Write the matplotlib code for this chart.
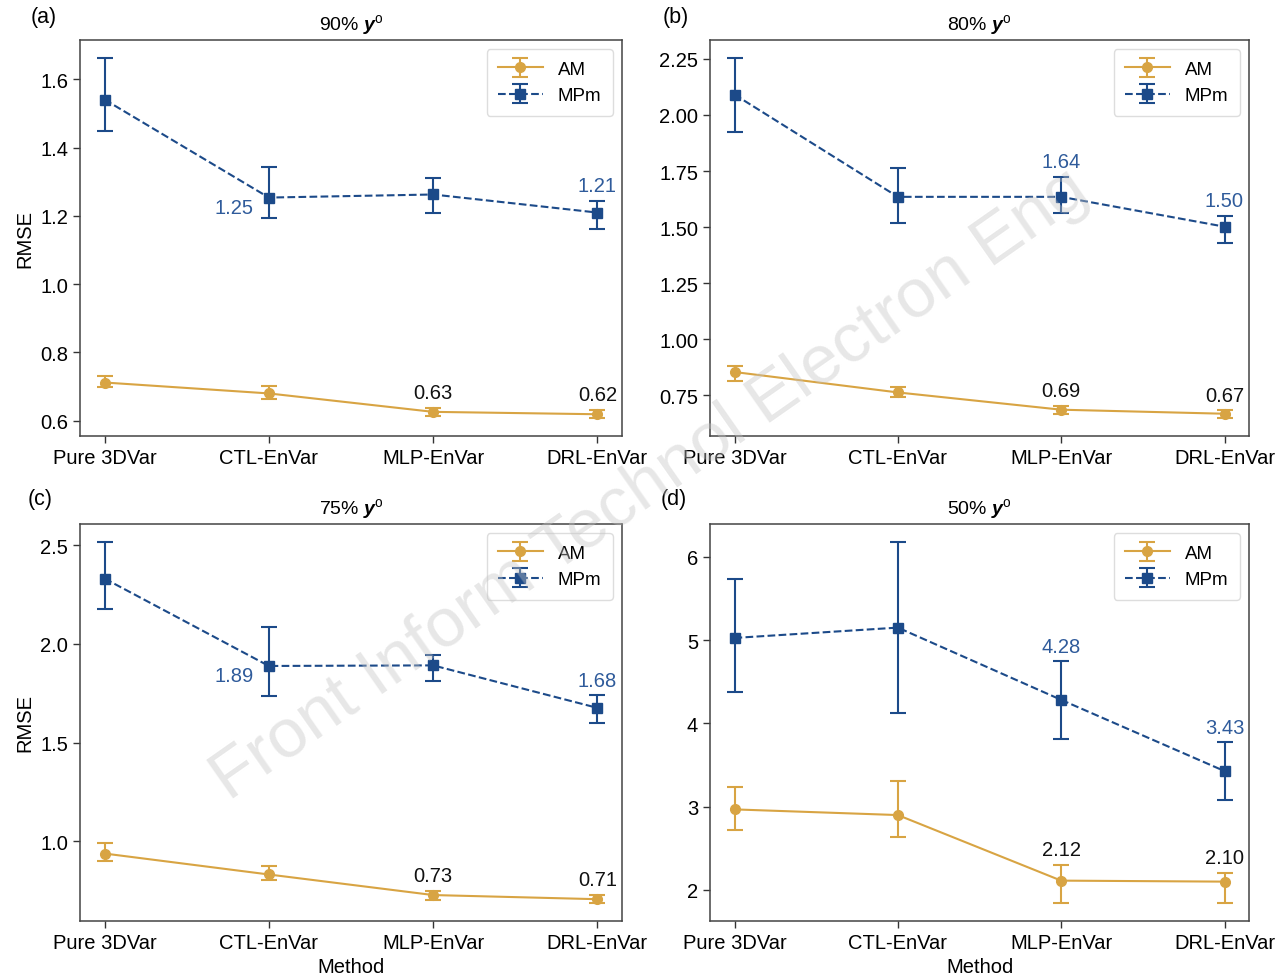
import numpy as np
import matplotlib
matplotlib.use('Agg')
import matplotlib.pyplot as plt

plt.rcParams['font.family'] = ['Liberation Sans', 'DejaVu Sans']
plt.rcParams['mathtext.fontset'] = 'custom'
plt.rcParams['mathtext.rm'] = 'Liberation Sans'
plt.rcParams['mathtext.it'] = 'Liberation Sans:italic'
plt.rcParams['mathtext.bf'] = 'Liberation Sans:bold:italic'

methods = ['Pure 3DVar', 'CTL-EnVar', 'MLP-EnVar', 'DRL-EnVar']

# (a) 90%
am_90 = [0.712, 0.680, 0.626, 0.619]
am_90_lo = [0.698, 0.665, 0.615, 0.608]
am_90_hi = [0.732, 0.702, 0.638, 0.632]
mp_90 = [1.541, 1.254, 1.263, 1.210]
mp_90_lo = [1.449, 1.193, 1.210, 1.163]
mp_90_hi = [1.663, 1.343, 1.312, 1.245]

# (b) 80%
am_80 = [0.854, 0.763, 0.686, 0.668]
am_80_lo = [0.814, 0.741, 0.666, 0.649]
am_80_hi = [0.880, 0.787, 0.703, 0.683]
mp_80 = [2.091, 1.635, 1.635, 1.502]
mp_80_lo = [1.925, 1.520, 1.565, 1.427]
mp_80_hi = [2.254, 1.765, 1.725, 1.550]

# (c) 75%
am_75 = [0.939, 0.833, 0.729, 0.708]
am_75_lo = [0.902, 0.803, 0.705, 0.689]
am_75_hi = [0.992, 0.877, 0.752, 0.729]
mp_75 = [2.330, 1.888, 1.891, 1.676]
mp_75_lo = [2.178, 1.737, 1.812, 1.602]
mp_75_hi = [2.515, 2.087, 1.942, 1.740]

# (d) 50%
am_50 = [2.967, 2.899, 2.112, 2.100]
am_50_lo = [2.719, 2.631, 1.844, 1.844]
am_50_hi = [3.231, 3.311, 2.300, 2.204]
mp_50 = [5.025, 5.149, 4.282, 3.427]
mp_50_lo = [4.378, 4.122, 3.810, 3.083]
mp_50_hi = [5.728, 6.176, 4.745, 3.770]

# value labels: {index: text}
am_labels = [{2: '0.63', 3: '0.62'}, {2: '0.69', 3: '0.67'},
             {2: '0.73', 3: '0.71'}, {2: '2.12', 3: '2.10'}]
mp_labels = [{1: '1.25', 3: '1.21'}, {2: '1.64', 3: '1.50'},
             {1: '1.89', 3: '1.68'}, {2: '4.28', 3: '3.43'}]
# labels placed left of point instead of above
mp_left = [{1}, set(), {1}, set()]

titles = ['90%', '80%', '75%', '50%']
tags = ['(a)', '(b)', '(c)', '(d)']
yticks = [[0.6, 0.8, 1.0, 1.2, 1.4, 1.6],
          [0.75, 1.00, 1.25, 1.50, 1.75, 2.00, 2.25],
          [1.0, 1.5, 2.0, 2.5],
          [2, 3, 4, 5, 6]]
ytick_fmt = ['{:.1f}', '{:.2f}', '{:.1f}', '{:.0f}']

panels = [
    (am_90, am_90_lo, am_90_hi, mp_90, mp_90_lo, mp_90_hi),
    (am_80, am_80_lo, am_80_hi, mp_80, mp_80_lo, mp_80_hi),
    (am_75, am_75_lo, am_75_hi, mp_75, mp_75_lo, mp_75_hi),
    (am_50, am_50_lo, am_50_hi, mp_50, mp_50_lo, mp_50_hi),
]

c_am = '#D8A443'
c_mp = '#1C4A89'
c_mp_txt = '#2F5B9B'

fig = plt.figure(figsize=(12.84, 9.79), dpi=100)
W, H = 1284, 979
boxes = [(80, 41, 622, 437), (710, 41, 1249, 437),
         (80, 525, 622, 922), (710, 525, 1249, 922)]
axes = [fig.add_axes([l / W, 1 - b / H, (r - l) / W, (b - t) / H]) for l, t, r, b in boxes]

x = np.arange(len(methods))
fs = 14.5

for i, ax in enumerate(axes):
    am, am_lo, am_hi, mp, mp_lo, mp_hi = [np.array(v) for v in panels[i]]
    ax.errorbar(x, am, yerr=[am - am_lo, am_hi - am], color=c_am, marker='o',
                markersize=7, linewidth=1.5, elinewidth=1.5, capsize=6, capthick=1.5,
                label='AM')
    ax.errorbar(x, mp, yerr=[mp - mp_lo, mp_hi - mp], color=c_mp, marker='s',
                markersize=7, linewidth=1.5, linestyle='--', elinewidth=1.5,
                capsize=6, capthick=1.5, label='MPm')

    for k, t in am_labels[i].items():
        ax.annotate(t, (x[k], am_hi[k]), xytext=(0, 4), textcoords='offset points',
                    ha='center', va='bottom', fontsize=fs, color='#111111')
    for k, t in mp_labels[i].items():
        if k in mp_left[i]:
            ax.annotate(t, (x[k], mp[k]), xytext=(-11, -7), textcoords='offset points',
                        ha='right', va='center', fontsize=fs, color=c_mp_txt)
        else:
            ax.annotate(t, (x[k], mp_hi[k]), xytext=(0, 4), textcoords='offset points',
                        ha='center', va='bottom', fontsize=fs, color=c_mp_txt)

    ax.set_xticks(x)
    ax.set_xticklabels(methods, fontsize=fs)
    ax.set_yticks(yticks[i])
    ax.set_yticklabels([ytick_fmt[i].format(v) for v in yticks[i]])
    ax.tick_params(axis='y', labelsize=fs)
    ax.tick_params(length=5, width=1, color='#333333')
    for s in ax.spines.values():
        s.set_color('#444444')
        s.set_linewidth(1.1)
    ax.set_title(titles[i] + r' $\mathbf{y}^{\mathrm{o}}$', fontsize=fs - 0.5, pad=8)
    ax.legend(loc='upper right', fontsize=fs - 1, fancybox=True, framealpha=1,
              edgecolor='#DDDDDD', borderpad=0.6, handlelength=2.4)
    if i % 2 == 0:
        ax.set_ylabel('RMSE', fontsize=fs)
    if i >= 2:
        ax.set_xlabel('Method', fontsize=fs, labelpad=4)

tag_pos = [(44, 18), (676, 18), (40, 500), (674, 500)]
for t, (px, py) in zip(tags, tag_pos):
    fig.text(px / W, 1 - py / H, t, fontsize=fs + 1, ha='center', va='center')

# watermark
fig.text(650 / W, 1 - 485 / H, 'Front Inform Technol Electron Eng', fontsize=50,
         color='#C4C4C4', alpha=0.4, rotation=35, ha='center', va='center', zorder=10)

fig.savefig('out.png', dpi=100)
